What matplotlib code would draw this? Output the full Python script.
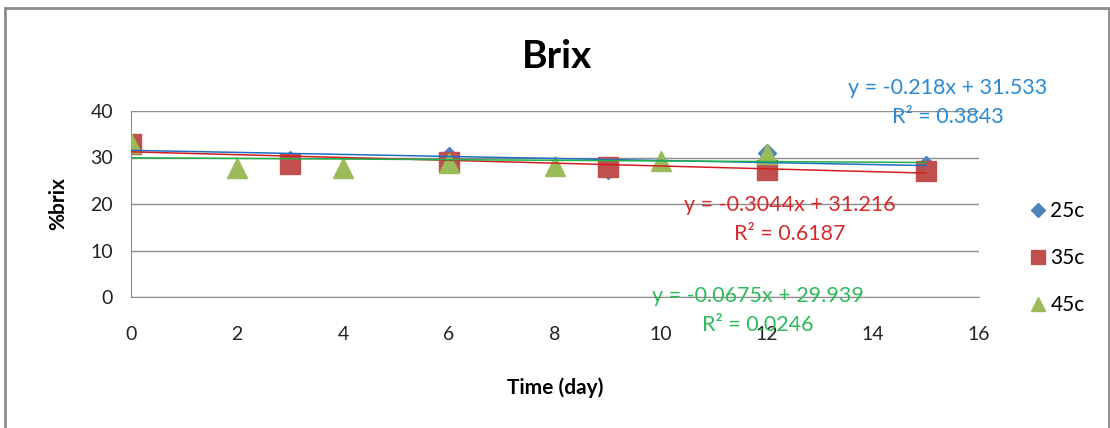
import numpy as np
import matplotlib
matplotlib.use("Agg")
import matplotlib.pyplot as plt
from matplotlib.patches import Rectangle

# measured %brix over storage time
days_25 = [0, 3, 6, 9, 12, 15]
brix_25 = [33.0, 29.5, 30.3, 27.3, 31.0, 28.4]
days_35 = [0, 3, 6, 9, 12, 15]
brix_35 = [33.0, 28.6, 29.1, 28.0, 27.3, 27.0]
days_45 = [0, 2, 4, 6, 8, 10, 12]
brix_45 = [33.1, 27.8, 27.8, 28.8, 28.2, 29.2, 30.7]

# linear trendlines (slope, intercept, R^2) as printed on the chart
trend_25 = (-0.218, 31.533, 0.3843)
trend_35 = (-0.3044, 31.216, 0.6187)
trend_45 = (-0.0675, 29.939, 0.0246)
trend_range = [0, 15]

plt.rcParams['font.family'] = ['Lato', 'DejaVu Sans']

fig = plt.figure(figsize=(11.10, 4.28), dpi=100)
ax = fig.add_axes([131 / 1110, 1 - 297 / 428, (979 - 131) / 1110, (297 - 111) / 428])

# chart border
fig.patches.append(Rectangle((5 / 1110, -0.1), 1104 / 1110, 1.1 - 8 / 428,
                             transform=fig.transFigure, fill=False,
                             edgecolor="#8c8c8c", lw=2))

series = [
    ("25c", days_25, brix_25, trend_25, "D", "#4f81bd", 9, "#1f6fc4", "#2a8ad4"),
    ("35c", days_35, brix_35, trend_35, "s", "#c0504d", 14, "#d11f1f", "#d52b2b"),
    ("45c", days_45, brix_45, trend_45, "^", "#9bbb59", 14, "#21b04a", "#2dbb5a"),
]

for name, x, y, tr, mk, col, ms, lcol, tcol in series:
    ax.plot(x, y, ls="none", marker=mk, color=col, markersize=ms, label=name, zorder=3)

for name, x, y, tr, mk, col, ms, lcol, tcol in series:
    xx = np.array(trend_range, dtype=float)
    ax.plot(xx, tr[0] * xx + tr[1], color=lcol, lw=1.1, zorder=4)

ax.set_xlim(0, 16)
ax.set_ylim(0, 40)
ax.set_xticks(range(0, 17, 2))
ax.set_yticks(range(0, 41, 10))
ax.yaxis.grid(True, color="#8c8c8c", lw=1)
ax.set_axisbelow(True)
for s in ["top", "right"]:
    ax.spines[s].set_visible(False)
for s in ["left", "bottom"]:
    ax.spines[s].set_color("#8c8c8c")
ax.tick_params(axis="both", length=0, labelsize=14, colors="#222222")
ax.tick_params(axis="x", pad=21)
ax.tick_params(axis="y", pad=13)

ax.set_xlabel("Time (day)", fontsize=15, fontweight="bold", labelpad=25)
ax.set_ylabel("%brix", fontsize=15, fontweight="bold", labelpad=16)
fig.text(557 / 1110, 1 - 57 / 428, "Brix", fontsize=28, fontweight="bold",
         ha="center", va="center")

# trendline labels
labels_pos = [(948, 88), (790, 205), (758, 296)]
for (name, x, y, tr, mk, col, ms, lcol, tcol), (px, py) in zip(series, labels_pos):
    fig.text(px / 1110, 1 - py / 428, "y = %gx + %g" % (tr[0], tr[1]),
             color=tcol, fontsize=15.5, ha="center", va="center")
    fig.text(px / 1110, 1 - (py + 29) / 428, "R² = %.4f" % tr[2],
             color=tcol, fontsize=15.5, ha="center", va="center")

fig.legend(loc="center left", bbox_to_anchor=(1015 / 1110, 1 - 258 / 428),
           frameon=False, fontsize=15, handletextpad=0.0, labelspacing=1.3,
           handlelength=1.2, markerscale=0.75, borderpad=0)

fig.savefig("out.png", dpi=100)
